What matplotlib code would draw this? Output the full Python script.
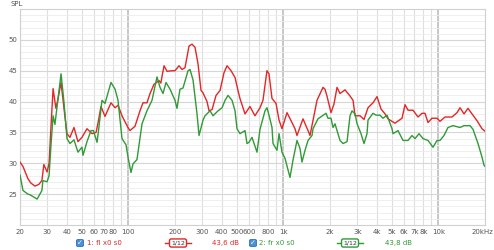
import matplotlib
matplotlib.use("Agg")
import matplotlib.pyplot as plt
from matplotlib.patches import FancyBboxPatch
from matplotlib.lines import Line2D

# ---- data ----
red_freq = [20, 20.9, 22.5, 23.5, 25, 26.5, 27.7, 28.5, 29.9, 30.8, 31.7, 32.7, 33.6, 34.1, 35.2,
            36.8, 38.4, 40.2, 42.0, 44.6, 47.3, 50.2, 54.1, 58.3, 61.9, 63.7, 66.6, 70.7, 77.3,
            82.1, 85.8, 91, 96.6, 99.5, 102.5, 110.4, 118.9, 124.3, 131.9, 138, 146.4, 157.7,
            162, 169.9, 177.7, 191.3, 200, 212.2, 222, 232.1, 246.3, 257.6, 269.3, 281.6, 294.4,
            303.3, 321.9, 331.6, 346.8, 368, 390.5, 414.5, 433.3, 459.8, 487.9, 509.9, 525,
            565.8, 609, 656, 707, 739, 784, 808, 845, 897, 938, 980, 1056, 1137, 1189, 1225,
            1339, 1443, 1486, 1649, 1802, 1857, 1912, 2030, 2122, 2220, 2321, 2500, 2693, 2817,
            2902, 3126, 3315, 3518, 3788, 4021, 4268, 4530, 4735, 5253, 5830, 6096, 6375, 6863,
            7393, 7845, 8203, 8578, 9103, 9805, 10252, 11041, 12252, 13199, 13801, 14645, 15540,
            16490, 17762, 19130, 20000]
red_db = [30.2, 29.5, 27.5, 26.8, 26.3, 26.6, 27.2, 29.8, 28.6, 30, 36, 42.1, 40, 38.9, 40.5,
          43.1, 39, 34.8, 34.2, 35.8, 33.5, 34.2, 35.6, 34.8, 35, 36.5, 39.2, 37.6, 39.8,
          39, 39.4, 37.7, 36.4, 35.8, 35.3, 36, 38.5, 39.8, 39.8, 41.3, 42.8, 43.4,
          43, 45.8, 44.9, 45, 45, 45.8, 45.2, 45.5, 49, 49.3, 48.8, 46.1, 41.8,
          41.4, 40, 38.5, 38.7, 41, 41.8, 44.7, 45.8, 45, 43.9, 41.8, 40.5,
          38.0, 39.2, 37.7, 39, 40.2, 45, 44.5, 40.5, 39.7, 37, 35.6, 38.2, 36.6, 35.6, 34.5,
          37.2, 35.3, 34.5, 40.2, 42.3, 42, 40.9, 38.2, 39.6, 42.3, 41.3, 41.9, 40.9, 40.2,
          37.7, 37.7, 37.1, 39, 39.8, 40.8, 38.8, 38, 37.2, 36.5, 37.3, 39.5, 38.6, 38.6,
          37.5, 38.1, 38.1, 36.6, 37.3, 37.3, 36.8, 37.5, 37.5, 38.2, 39, 38, 38.9,
          38, 36.9, 35.6, 35.2]

green_freq = [20, 20.9, 22.5, 23.2, 25, 25.8, 27.7, 28.1, 29.9, 30.8, 31.7, 32.7, 33.6, 35.2,
              36.8, 38.4, 40.2, 42, 44.6, 47.3, 50.2, 51, 54.1, 57.4, 59.5, 62.8, 64, 67.6,
              70.7, 77.3, 82.1, 85.8, 91, 96.6, 99.5, 104, 107.2, 113.7, 122.5, 131.9, 142.1,
              153.1, 160.1, 167.4, 175, 185.8, 200, 206, 215.4, 225.3, 242.7, 250, 261.4, 277.4,
              285.8, 303.3, 312.5, 336.6, 351.9, 379.1, 402.3, 420.6, 439.8, 466.7, 487.9, 502.4,
              525.3, 565.8, 582.9, 600.4, 627.8, 676.2, 707, 761.5, 784.4, 808, 845, 858, 910,
              938, 980, 1025, 1104, 1154, 1225, 1281, 1319, 1380, 1443, 1531, 1554, 1673, 1885,
              1941, 2030, 2091, 2154, 2321, 2427, 2576, 2693, 2775, 2902, 2990, 3170, 3315, 3466,
              3518, 3788, 3961, 4204, 4396, 4667, 5024, 5099, 5492, 5918, 6375, 6762, 7071, 7504,
              7962, 8578, 9239, 9805, 10252, 10878, 11545, 12435, 13801, 14645, 16008, 16737,
              18031, 19130, 19700, 20000]
green_db = [28.1, 25.6, 25.0, 24.9, 24.4, 24.2, 25.6, 27.2, 27, 28, 33, 37.7, 36.3, 40.5,
            44.5, 40, 34, 33.2, 33.8, 31.8, 32.6, 31.3, 33.5, 35.3, 35.3, 33.4, 35, 40.2,
            39.7, 43.1, 42, 40.2, 34, 33, 31, 28.5, 29.9, 30.6, 36.4, 38.5, 40.2,
            44, 42.3, 41.3, 43.1, 42, 40.2, 38.9, 42, 42.2, 45, 45.2, 43.5, 38,
            34.5, 37, 37.7, 38.5, 37.7, 38.5, 39, 40.2, 41, 40.2, 38.5, 35.6,
            34.8, 35.3, 33.2, 33.4, 34.2, 31.8, 35.5, 38.5, 39, 37.8, 35.8, 33.2, 32.1,
            34.8, 31.8, 30.8, 27.7, 30.5, 33.7, 32.4, 30.2, 32.1, 33.7, 34.5, 35.6, 37.2, 38.1,
            37.3, 37.3, 35.8, 36.4, 33.7, 33.2, 33.5, 37.7, 38.5, 38, 36.4, 34.8, 33.2, 34.8,
            37, 38.1, 37.8, 37.8, 37.3, 37.8, 35.6, 34.8, 35.3, 33.7, 33.7, 34.5, 34, 34.8,
            34, 33.7, 32.6, 33.7, 33.7, 34.5, 35.8, 36.1, 35.8, 36.1, 36.1, 35.5,
            33.2, 31, 29.7, 29.5]

xtick_vals = [20, 30, 40, 50, 60, 70, 80, 100, 200, 300, 400, 500, 600, 800, 1000, 2000, 3000,
              4000, 5000, 6000, 7000, 8000, 10000, 20000]
xtick_labels = ["20", "30", "40", "50", "60", "70", "80", "100", "200", "300", "400", "500", "600",
                "800", "1k", "2k", "3k", "4k", "5k", "6k", "7k", "8k", "10k", "20kHz"]
ytick_vals = [25, 30, 35, 40, 45, 50]
legend_names = ["1: fl x0 s0", "2: fr x0 s0"]
legend_levels = ["43,6 dB", "43,8 dB"]
smoothing = "1/12"

RED = "#e32626"
GREEN = "#2f9a36"

fig = plt.figure(figsize=(4.94, 2.5), dpi=100)
fig.patch.set_facecolor("white")
ax = fig.add_axes([20 / 494, 1 - 225 / 250, 465 / 494, 216 / 250])
ax.set_xscale("log")
ax.set_xlim(20, 20000)
ax.set_ylim(20, 55)

# grid
minor_x = [m * 10 ** e for e in range(1, 5) for m in range(1, 10) if 20 <= m * 10 ** e <= 20000]
for f in minor_x:
    if f in (100, 1000, 10000):
        ax.axvline(f, color="#bdbdbd", lw=1.2, zorder=0)
    else:
        ax.axvline(f, color="#dedede", lw=0.8, zorder=0)
for v in range(21, 55):
    if v % 5 == 0:
        ax.axhline(v, color="#d6d6d6", lw=0.8, zorder=0)
    else:
        ax.axhline(v, color="#ececec", lw=0.6, zorder=0)

ax.plot(red_freq, red_db, color=RED, lw=1.0, zorder=3)
ax.plot(green_freq, green_db, color=GREEN, lw=1.0, zorder=4)

ax.set_xticks(xtick_vals)
ax.set_xticklabels(xtick_labels)
ax.set_xticks([], minor=True)
ax.set_yticks(ytick_vals)
ax.set_yticklabels([str(v) for v in ytick_vals])
ax.tick_params(axis="both", length=0, labelsize=5, colors="#555555", pad=3)
ax.tick_params(axis="y", pad=2)
# keep the last label inside the figure
last = ax.get_xticklabels()[-1]
last.set_horizontalalignment("right")
import matplotlib.transforms as mtransforms
last.set_transform(last.get_transform() + mtransforms.ScaledTranslation(8 / 100, 0, fig.dpi_scale_trans))
for s in ax.spines.values():
    s.set_color("#d0d0d0")
    s.set_linewidth(0.8)

fig.text(10 / 494, 1 - 4 / 250, "SPL", fontsize=5, color="#555555", ha="left", va="center")

# legend row
ly = 1 - 243 / 250
def checkbox(xpix):
    w = 7 / 494
    h = 7 / 250
    box = FancyBboxPatch((xpix / 494 - w / 2, ly - h / 2), w, h,
                         boxstyle="round,pad=0,rounding_size=0.004",
                         transform=fig.transFigure, facecolor="#4a90d9",
                         edgecolor="#2f6fb5", lw=0.6)
    fig.add_artist(box)
    fig.text(xpix / 494, ly, "\u2713", fontsize=5, color="white", ha="center", va="center",
             fontweight="bold")

def smooth_symbol(xpix, color):
    fig.add_artist(Line2D([(xpix - 13) / 494, (xpix + 13) / 494], [ly, ly],
                          transform=fig.transFigure, color=color, lw=1.0))
    fig.text(xpix / 494, ly, smoothing, fontsize=4.5, color="#333333", ha="center", va="center",
             bbox=dict(boxstyle="round,pad=0.25,rounding_size=0.3", facecolor="white",
                       edgecolor=color, lw=1.0))

checkbox(80)
fig.text(87 / 494, ly, legend_names[0], fontsize=5, color=RED, ha="left", va="center")
smooth_symbol(178, RED)
fig.text(212 / 494, ly, legend_levels[0], fontsize=5, color=RED, ha="left", va="center")
checkbox(253)
fig.text(259 / 494, ly, legend_names[1], fontsize=5, color=GREEN, ha="left", va="center")
smooth_symbol(350, GREEN)
fig.text(385 / 494, ly, legend_levels[1], fontsize=5, color=GREEN, ha="left", va="center")

fig.savefig("out.png", dpi=100, facecolor="white")
